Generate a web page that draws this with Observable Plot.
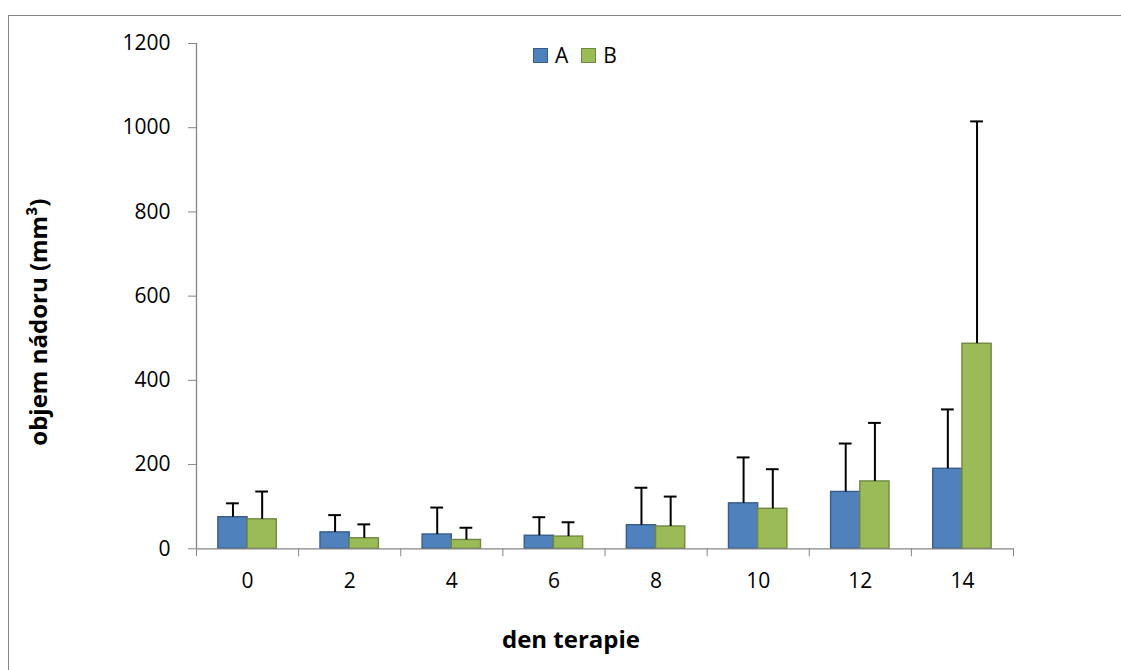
<!DOCTYPE html>
<html>
<head>
<meta charset="utf-8">
<script src="https://cdn.jsdelivr.net/npm/d3@7"></script>
<script src="https://cdn.jsdelivr.net/npm/@observablehq/plot@0.6"></script>
<style>
  body { margin: 0; background: #fff; }
  #wrap { position: relative; width: 1121px; height: 670px; overflow: hidden; font-family: "Open Sans", sans-serif; color: #000; }
  #wrap svg { position: absolute; left: 0; top: 0; }
  #border { position: absolute; left: 8px; top: 15px; width: 1300px; height: 800px; border-left: 1.3px solid #868686; border-top: 1.3px solid #868686; pointer-events: none; }
  #legend { position: absolute; left: 533px; top: 41px; display: flex; align-items: center; font-size: 21px; line-height: 28px; }
  #legend .item { display: flex; align-items: center; margin-right: 13px; }
  #legend .sw { width: 13px; height: 13px; margin-right: 7px; border: 1.3px solid; }
</style>
</head>
<body>
<div id="wrap">
  <div id="border"></div>
  <div id="legend"></div>
</div>
<script>
// ---- data ----
const days = [0, 2, 4, 6, 8, 10, 12, 14];
const seriesNames = ["A", "B"];
const meanA = [75, 39, 34, 31, 56, 108, 135, 190];
const sdA   = [33, 41, 64, 44, 89, 109, 115, 141];
const meanB = [70, 25, 21, 29, 53, 95, 160, 487];
const sdB   = [66, 33, 29, 34, 71, 94, 139, 528];
const yTicks = [0, 200, 400, 600, 800, 1000, 1200];
const xTitle = "den terapie";
const yTitle = "objem nádoru (mm³)";
const fills = {A: "#4F81BD", B: "#9BBB59"};
const strokes = {A: "#385D8A", B: "#71893F"};

// ---- layout helpers ----
const barW = 0.572;   // bar width in day units
const capW = 0.125;   // half-width of error cap in day units
const xDomain = [days[0] - 1, days[days.length - 1] + 1];
const boundaries = days.map(d => d - 1).concat([xDomain[1]]);

const rowsA = days.map((d, i) => ({day: d, series: "A", mean: meanA[i], sd: sdA[i], x1: d - barW, x2: d}));
const rowsB = days.map((d, i) => ({day: d, series: "B", mean: meanB[i], sd: sdB[i], x1: d, x2: d + barW}));
const rows = rowsA.concat(rowsB);
const cx = d => (d.x1 + d.x2) / 2;
const errTop = d => d.mean + d.sd;

const axisColor = "#868686";

const chart = Plot.plot({
  width: 1121,
  height: 670,
  marginLeft: 196,
  marginRight: 108,
  marginTop: 43,
  marginBottom: 121.7,
  style: {fontFamily: '"Open Sans", sans-serif', color: "#000", background: "transparent"},
  x: {type: "linear", domain: xDomain},
  y: {domain: [yTicks[0], yTicks[yTicks.length - 1]]},
  marks: [
    Plot.rectY(rowsA, {x1: "x1", x2: "x2", y1: 0, y2: "mean", fill: fills.A, stroke: strokes.A, strokeWidth: 1.4}),
    Plot.rectY(rowsB, {x1: "x1", x2: "x2", y1: 0, y2: "mean", fill: fills.B, stroke: strokes.B, strokeWidth: 1.4}),
    Plot.ruleX(rows, {x: cx, y1: "mean", y2: errTop, stroke: "#000", strokeWidth: 2}),
    Plot.ruleY(rows, {y: errTop, x1: d => cx(d) - capW, x2: d => cx(d) + capW, stroke: "#000", strokeWidth: 2}),
    Plot.ruleY([0], {stroke: axisColor, strokeWidth: 1.3}),
    Plot.ruleX([xDomain[0]], {stroke: axisColor, strokeWidth: 1.3}),
    Plot.axisY({ticks: yTicks, tickSize: 8, tickPadding: 18, stroke: axisColor, fontSize: 21, label: null, tickFormat: d => String(d)}),
    Plot.axisX({ticks: boundaries, tickSize: 8, tickFormat: () => "", stroke: axisColor, label: null}),
    Plot.axisX({ticks: days, tickSize: 0, tickPadding: 24, fontSize: 21, label: null, tickFormat: d => String(d)}),
    Plot.text([xTitle], {frameAnchor: "bottom", dx: -34, dy: 92, lineAnchor: "middle", fontSize: 24, fontWeight: "bold"}),
    Plot.text([yTitle], {frameAnchor: "left", dx: -157, dy: 26, rotate: -90, textAnchor: "middle", lineAnchor: "middle", fontSize: 24, fontWeight: "bold"})
  ]
});
document.getElementById("wrap").insertBefore(chart, document.getElementById("border"));

// legend
const legend = document.getElementById("legend");
seriesNames.forEach(s => {
  const item = document.createElement("div");
  item.className = "item";
  const sw = document.createElement("div");
  sw.className = "sw";
  sw.style.background = fills[s];
  sw.style.borderColor = strokes[s];
  const lab = document.createElement("span");
  lab.textContent = s;
  item.appendChild(sw);
  item.appendChild(lab);
  legend.appendChild(item);
});
</script>
</body>
</html>
